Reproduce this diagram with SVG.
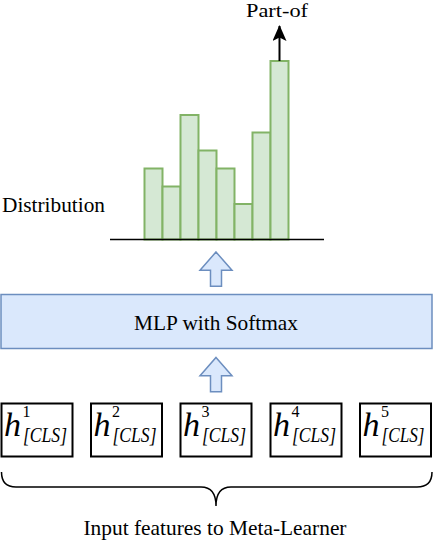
<svg xmlns="http://www.w3.org/2000/svg" width="434" height="542" viewBox="0 0 434 542">
<style>
.bar{fill:#d5e8d4;stroke:#82b366;stroke-width:2}
.blk{fill:#dae8fc;stroke:#6c8ebf;stroke-width:1.5}
.feat{fill:#fff;stroke:#000;stroke-width:2}
</style>
<defs>
<marker id="ah" viewBox="0 0 16 14" refX="15" refY="7" markerWidth="16" markerHeight="14" markerUnits="userSpaceOnUse" orient="auto">
<path d="M0,0 L16,7 L0,14 L3.5,7 Z" fill="#000"/>
</marker>
<g id="uparrow">
<path d="M216,0 L232,18.3 L221.5,18.3 L221.5,34.3 L210.5,34.3 L210.5,18.3 L200,18.3 Z"/>
</g>
</defs>

<g font-family="'Liberation Serif', 'DejaVu Serif', serif" fill="#000">
<g id="distribution">
<text x="2" y="212" font-size="21" textLength="103" lengthAdjust="spacingAndGlyphs">Distribution</text>
<rect class="bar" x="144.5" y="168.5" width="18" height="71"/>
<rect class="bar" x="162.5" y="186.5" width="18" height="53"/>
<rect class="bar" x="180.5" y="115" width="18" height="124.5"/>
<rect class="bar" x="198.5" y="150.5" width="18" height="89"/>
<rect class="bar" x="216.5" y="168.5" width="18" height="71"/>
<rect class="bar" x="234.5" y="204" width="18" height="35.5"/>
<rect class="bar" x="252.5" y="132.5" width="18" height="107"/>
<rect class="bar" x="270.5" y="61" width="18" height="178.5"/>
<line x1="110" y1="239.5" x2="324" y2="239.5" stroke="#000" stroke-width="1.5"/>
</g>

<g id="part-of">
<text x="277" y="17" font-size="19" text-anchor="middle" textLength="62" lengthAdjust="spacingAndGlyphs">Part-of</text>
</g>

<g id="mlp">
<rect class="blk" x="1" y="294.5" width="431" height="54"/>
<text x="216" y="330" font-size="21" text-anchor="middle" textLength="164" lengthAdjust="spacingAndGlyphs">MLP with Softmax</text>
</g>

<g id="feat1">
<rect class="feat" x="1.5" y="403.5" width="71" height="53"/>
<text x="4" y="435.5" font-size="34" font-style="italic">h</text>
<text x="22.5" y="417" font-size="16">1</text>
<text x="23" y="442" font-size="22" font-style="italic" textLength="44" lengthAdjust="spacingAndGlyphs">[CLS]</text>
</g>
<g id="feat2">
<rect class="feat" x="91" y="403.5" width="71" height="53"/>
<text x="93.5" y="435.5" font-size="34" font-style="italic">h</text>
<text x="112" y="417" font-size="16">2</text>
<text x="112.5" y="442" font-size="22" font-style="italic" textLength="44" lengthAdjust="spacingAndGlyphs">[CLS]</text>
</g>
<g id="feat3">
<rect class="feat" x="180.5" y="403.5" width="71" height="53"/>
<text x="183" y="435.5" font-size="34" font-style="italic">h</text>
<text x="201.5" y="417" font-size="16">3</text>
<text x="202" y="442" font-size="22" font-style="italic" textLength="44" lengthAdjust="spacingAndGlyphs">[CLS]</text>
</g>
<g id="feat4">
<rect class="feat" x="270.5" y="403.5" width="71" height="53"/>
<text x="273" y="435.5" font-size="34" font-style="italic">h</text>
<text x="291.5" y="417" font-size="16">4</text>
<text x="292" y="442" font-size="22" font-style="italic" textLength="44" lengthAdjust="spacingAndGlyphs">[CLS]</text>
</g>
<g id="feat5">
<rect class="feat" x="360" y="403.5" width="71" height="53"/>
<text x="362.5" y="435.5" font-size="34" font-style="italic">h</text>
<text x="381" y="417" font-size="16">5</text>
<text x="381.5" y="442" font-size="22" font-style="italic" textLength="43" lengthAdjust="spacingAndGlyphs">[CLS]</text>
</g>

<g id="input-label">
<path d="M1.5,472 Q1.5,487 16,487 L201,487 Q216,487 216,506 Q216,487 231,487 L417,487 Q432,487 432,472" fill="none" stroke="#000" stroke-width="1.5"/>
<text x="215" y="535" font-size="21" text-anchor="middle" textLength="263" lengthAdjust="spacingAndGlyphs">Input features to Meta-Learner</text>
</g>
</g>

<g id="connectors">
<line x1="279.5" y1="61" x2="279.5" y2="26" stroke="#000" stroke-width="2" marker-end="url(#ah)"/>
<use href="#uparrow" class="blk" y="252"/>
<use href="#uparrow" class="blk" y="357.5"/>
</g>
</svg>
